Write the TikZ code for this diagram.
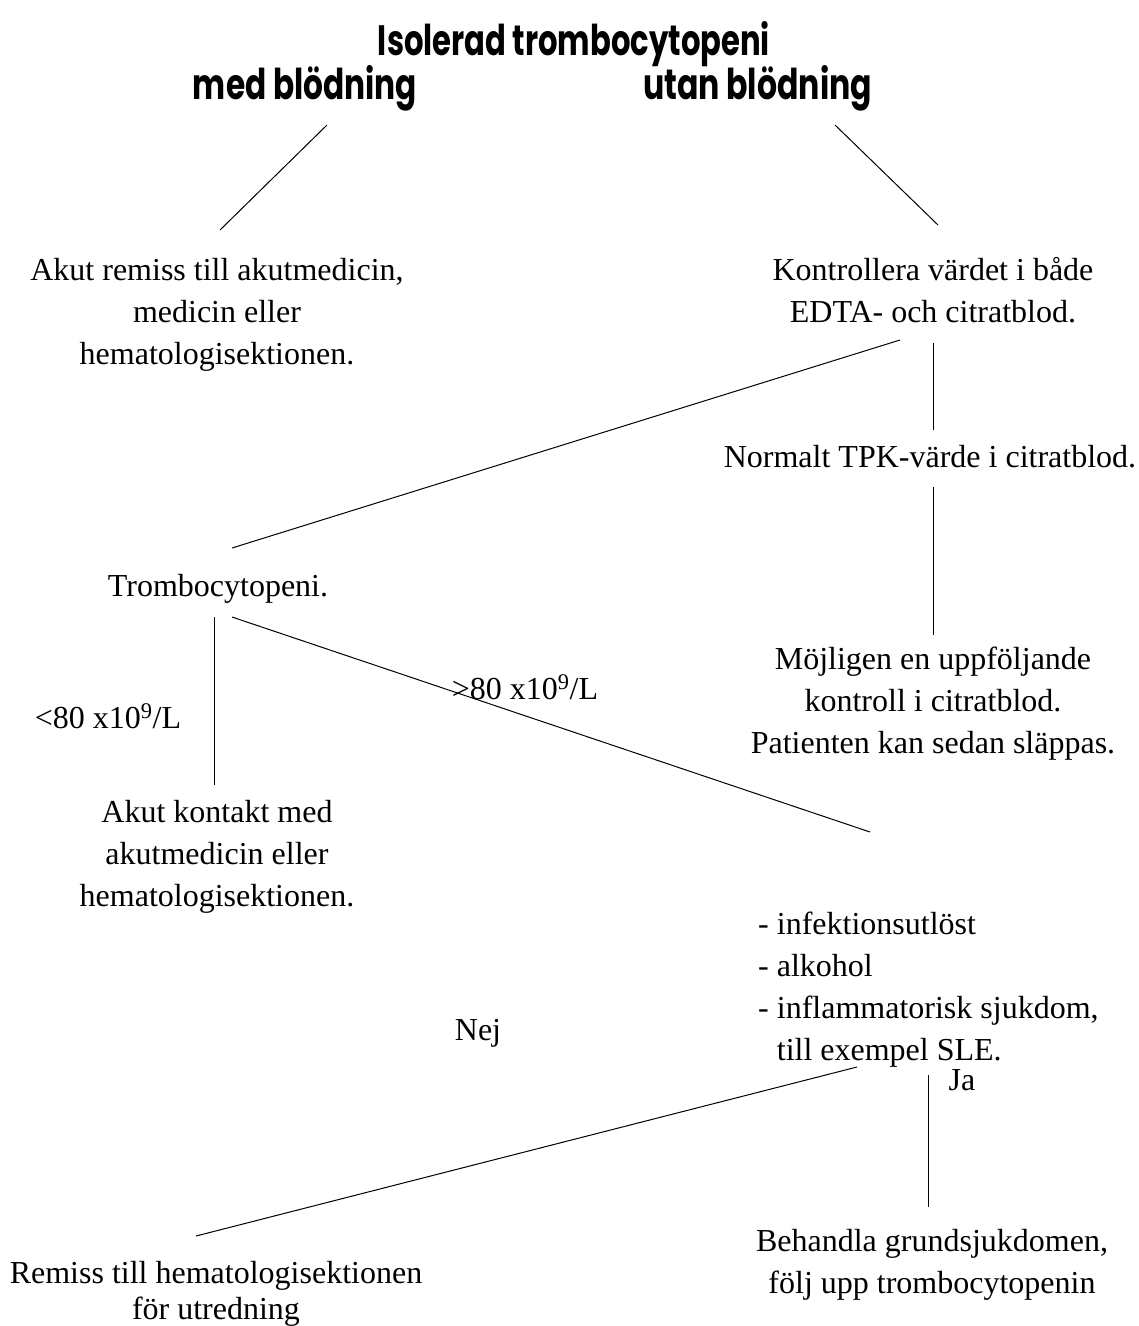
\documentclass[tikz,border=0pt]{standalone}
\usepackage{graphicx}
\usepackage{fontspec}
\setmainfont{Liberation Serif}
\newfontfamily\titlefont{Poppins}
\begin{document}
\begin{tikzpicture}[x=1pt,y=-1pt,
  txt/.style={font=\fontsize{32}{42}\selectfont, align=center, inner sep=0pt, anchor=base},
  lft/.style={font=\fontsize{32}{42}\selectfont, align=left, inner sep=0pt, anchor=base west},
  ttl/.style={font=\titlefont\bfseries\fontsize{40}{40}\selectfont, inner sep=0pt, anchor=base},
  ln/.style={line width=1pt, line cap=butt}]
\useasboundingbox (0,0) rectangle (1139,1326);
% titles
\node[ttl] (title) at (574,55) {\resizebox{392pt}{34pt}{Isolerad trombocytopeni}};
\node[ttl] (med) at (305,99) {\resizebox{224pt}{34pt}{med blödning}};
\node[ttl] (utan) at (757.5,99) {\resizebox{229pt}{34pt}{utan blödning}};
% text blocks (base anchor = baseline of last line)
\node[txt] (akut) at (217,364) {Akut remiss till akutmedicin,\\medicin eller\\hematologisektionen.};
\node[txt] (kontr) at (933,322) {Kontrollera värdet i både\\EDTA- och citratblod.};
\node[txt] (norm) at (930,467) {Normalt TPK-värde i citratblod.};
\node[txt] (mojl) at (933,753) {Möjligen en uppföljande\\kontroll i citratblod.\\Patienten kan sedan släppas.};
\node[txt] (tromb) at (218,596) {Trombocytopeni.};
\node[txt] (lt) at (108,728) {<80 x10\textsuperscript{9}/L};
\node[txt] (gt) at (525,699) {>80 x10\textsuperscript{9}/L};
\node[txt] (kontakt) at (217,906) {Akut kontakt med\\akutmedicin eller\\hematologisektionen.};
\node[lft] (lista) at (758,1060) {- infektionsutlöst\\- alkohol\\- inflammatorisk sjukdom,\\\hphantom{- }till exempel SLE.};
\node[txt] (nej) at (478,1040) {Nej};
\node[txt] (ja) at (962,1090) {Ja};
\node[txt] (behandla) at (932,1293) {Behandla grundsjukdomen,\\följ upp trombocytopenin};
\node[txt] (remiss) at (216,1319) {Remiss till hematologisektionen\\[-6pt]för utredning};
% connector end points
\coordinate (c1a) at (327,125); \coordinate (c1b) at (220,230);
\coordinate (c2a) at (835,125); \coordinate (c2b) at (938,225);
\coordinate (c3a) at (900,340); \coordinate (c3b) at (232,548);
\coordinate (c4a) at (933,343); \coordinate (c4b) at (933,430);
\coordinate (c5a) at (933,487); \coordinate (c5b) at (933,635);
\coordinate (c6a) at (214,617); \coordinate (c6b) at (214,785);
\coordinate (c7a) at (232,617); \coordinate (c7b) at (870,832);
\coordinate (c8a) at (857,1067); \coordinate (c8b) at (196,1236);
\coordinate (c9a) at (928,1075); \coordinate (c9b) at (928,1207);
\draw[ln] (c1a) -- (c1b);
\draw[ln] (c2a) -- (c2b);
\draw[ln] (c3a) -- (c3b);
\draw[ln] (c4a) -- (c4b);
\draw[ln] (c5a) -- (c5b);
\draw[ln] (c6a) -- (c6b);
\draw[ln] (c7a) -- (c7b);
\draw[ln] (c8a) -- (c8b);
\draw[ln] (c9a) -- (c9b);
\end{tikzpicture}
\end{document}
